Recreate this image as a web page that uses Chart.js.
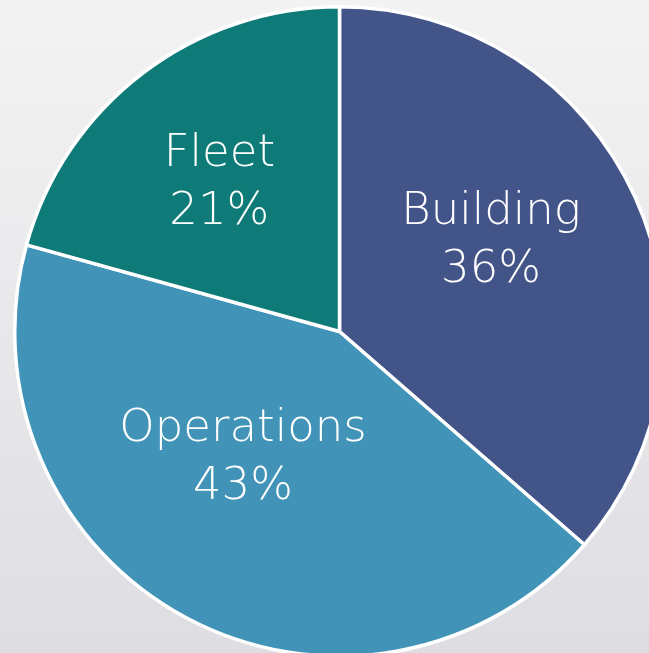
<!DOCTYPE html>
<html>
<head>
<meta charset="utf-8">
<script src="https://cdn.jsdelivr.net/npm/chart.js@4"></script>
<style>
    html, body {
        margin: 0;
        padding: 0;
        width: 649px;
        height: 653px;
        overflow: hidden;
        background: linear-gradient(#f3f3f4, #dedee2);
    }
    #wrap {
        position: absolute;
        left: 13px;
        top: 5px;
        width: 653px;
        height: 653px;
    }
</style>
</head>
<body>
<div id="wrap"><canvas id="pieChart"></canvas></div>
<script>
const categories = ['Building', 'Operations', 'Fleet'];
const shares = [36.4, 42.9, 20.7];
const sliceColors = ['#435488', '#4194b7', '#0e7b78'];

// nudge each label away from the plain centroid (x, y in px)
const labelNudge = [[-11, -16], [-12, -31], [-12, -6]];

// white two-line labels inside each slice
const sliceLabels = {
    id: 'sliceLabels',
    afterDatasetsDraw(chart) {
        const ctx = chart.ctx;
        const meta = chart.getDatasetMeta(0);
        ctx.save();
        ctx.fillStyle = '#ffffff';
        ctx.textAlign = 'center';
        ctx.textBaseline = 'middle';
        ctx.font = '200 45px "DejaVu Sans", Lato, sans-serif';
        meta.data.forEach(function(arc, i) {
            const p = arc.getProps(['x', 'y', 'startAngle', 'endAngle', 'outerRadius'], true);
            const mid = (p.startAngle + p.endAngle) / 2;
            const r = p.outerRadius * 0.55;
            const cx = p.x + Math.cos(mid) * r + labelNudge[i][0];
            const cy = p.y + Math.sin(mid) * r + labelNudge[i][1];
            ctx.fillText(categories[i], cx, cy - 29);
            ctx.fillText(Math.round(shares[i]) + '%', cx, cy + 29);
        });
        ctx.restore();
    }
};

document.addEventListener('DOMContentLoaded', function() {
    const ctx = document.getElementById('pieChart').getContext('2d');
    new Chart(ctx, {
        type: 'pie',
        data: {
            labels: categories,
            datasets: [{
                data: shares,
                backgroundColor: sliceColors,
                borderColor: '#ffffff',
                borderWidth: 3.5,
            }],
        },
        options: {
            responsive: true,
            maintainAspectRatio: false,
            animation: false,
            layout: { padding: 0 },
            plugins: {
                legend: { display: false },
                tooltip: { enabled: false },
            },
        },
        plugins: [sliceLabels],
    });
});
</script>
</body>
</html>
